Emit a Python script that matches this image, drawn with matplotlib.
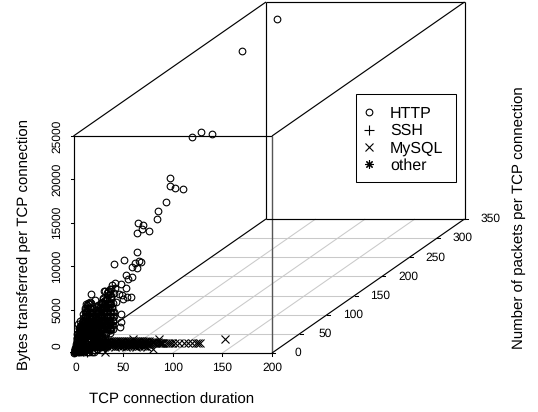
import matplotlib
matplotlib.use("Agg")
import matplotlib.pyplot as plt
from matplotlib.patches import Rectangle

plt.rcParams["font.family"] = ["Liberation Sans", "DejaVu Sans"]
plt.rcParams["text.hinting"] = "none"
plt.rcParams["text.hinting_factor"] = 1

x_ticks = [0, 50, 100, 150, 200]
y_ticks = [0, 50, 100, 150, 200, 250, 300, 350]
z_ticks = [0, 5000, 10000, 15000, 20000, 25000]

# duration, packets, bytes
http_top_x = [20, 20, 15, 15, 20, 10, 10, 10, 10, 5, 5, 5, 5, 5, 5, 5]
http_top_y = [333, 270, 188, 205, 215, 158, 157, 167, 181, 159, 145, 142, 109, 118, 116, 128]
http_top_z = [23790, 22940, 16554, 16380, 15745, 13190, 12280, 11670, 10875, 10335, 9965, 9170, 10170, 9500, 9205, 8445]

http_mid_x = [5, 5, 5, 5, 5, 5, 5, 5, 5, 5, 5, 5, 5, 5, 5, 5, 5, 5, 5, 5, 5, 5, 5, 5, 5, 5, 5, 5, 25, 25, 20]
http_mid_y = [106, 106, 64, 83, 103, 110, 113, 97, 107, 86, 90, 98, 77, 87, 74, 80, 89, 95, 81, 22, 30, 47, 54, 60, 69, 77, 41, 36, 39, 41, 30]
http_mid_z = [9147, 6945, 7373, 7050, 5875, 5760, 5540, 5610, 5045, 5184, 4504, 4481, 4573, 3594, 3525, 3145, 2477, 2281, 2638, 5818, 4781, 5115, 4677, 4712, 2857, 1083, 3300, 3700, 1302, 1786, 1313]

http_left_x = [1, 0, 2, 1, 3, 0, 2, 4, 1, 3, 0, 5, 2, 4, 1, 6, 2, 3, 0, 5, 2, 7, 3, 1, 4, 6, 2, 8, 3, 5, 1, 4, 2, 6, 3, 5]
http_left_y = [1, 2, 2, 3, 3, 4, 4, 5, 5, 6, 6, 7, 7, 8, 8, 9, 9, 10, 10, 11, 11, 12, 12, 13, 13, 14, 14, 15, 15, 16, 16, 17, 18, 19, 20, 21]
http_left_z = [200, 420, 530, 650, 780, 900, 1020, 1100, 1270, 1350, 1480, 1600, 1720, 1800, 1980, 2000, 2200, 2250, 2450, 2500, 2700, 2650, 2900, 3000, 3150, 3100, 3400, 3300, 3600, 3500, 3800, 4000, 4200, 4300, 4700, 4900]

http_right_x = [3, 6, 2, 8, 4, 10, 1, 7, 3, 12, 5, 9, 0, 4, 11, 6, 2, 8, 5, 1, 10, 3, 7, 4, 12, 6, 2, 9, 5, 1, 8, 3, 11, 6, 2, 7, 4, 10, 1, 5, 8, 3, 6, 0, 9, 4, 2, 7, 3, 5]
http_right_y = [6, 8, 10, 12, 14, 15, 16, 18, 20, 21, 22, 24, 25, 26, 27, 28, 30, 31, 32, 33, 34, 35, 36, 37, 38, 39, 40, 41, 42, 43, 44, 45, 46, 47, 48, 49, 50, 51, 52, 53, 54, 55, 56, 57, 58, 59, 60, 62, 64, 66]
http_right_z = [450, 650, 780, 1000, 1100, 1250, 1300, 1500, 1550, 1700, 1800, 1900, 2050, 2000, 2200, 2250, 2400, 2600, 2500, 2750, 2700, 2950, 2850, 3100, 3000, 3300, 3150, 3400, 3350, 3600, 3450, 3750, 3600, 3900, 3750, 4100, 3950, 4250, 4000, 4400, 4150, 4500, 4300, 4650, 4400, 4800, 4550, 4800, 5000, 5100]

http_low_x = [0, 1, 2, 3, 4, 5, 6, 7, 8, 9, 10, 11, 12, 13, 14, 15, 16, 17, 18, 19, 20, 22, 24, 26, 28, 0, 1, 2, 3, 4, 5, 6, 7, 8, 9, 10, 11, 12, 14, 16, 18, 20, 0, 1, 2, 3, 4, 5, 6, 8, 10, 12, 14, 16, 1, 3, 5, 7, 9, 11]
http_low_y = [0, 1, 0, 2, 1, 3, 2, 4, 1, 5, 3, 6, 2, 7, 4, 8, 5, 9, 3, 10, 6, 4, 7, 5, 8, 3, 5, 7, 9, 11, 13, 15, 17, 19, 14, 16, 18, 20, 22, 24, 26, 28, 30, 32, 34, 36, 28, 24, 20, 18, 20, 22, 26, 30, 2, 4, 1, 3, 2, 5]
http_low_z = [50, 100, 200, 150, 300, 250, 400, 200, 500, 350, 600, 300, 700, 450, 550, 500, 800, 600, 900, 400, 1000, 700, 500, 900, 800, 400, 700, 900, 1200, 1500, 1800, 2000, 1300, 1700, 1100, 1400, 1000, 1600, 1300, 1700, 1200, 2000, 1500, 1800, 2200, 2600, 1400, 1100, 900, 700, 1000, 1200, 1600, 2000, 100, 150, 50, 250, 100, 300]

# the solid black part near the origin, estimated
block_x = [2, 3, 1, 2, 3, 6, 7, 5, 6, 7, 10, 11, 9, 10, 11, 14, 15, 13, 14, 15, 18, 19, 17, 18, 19, 22, 23, 21, 22, 23, 26, 25, 24, 26, 25,
           0, 4, 8, 12, 16, 20, 24, 28, 0, 4, 8, 12, 16, 20, 24, 28, 0, 4, 8, 12, 16, 20, 24, 28, 0, 4, 8, 12, 16, 20, 24, 28, 4, 8, 12, 16, 20, 4, 8, 12, 16,
           0, 3, 6, 9, 12, 15, 18, 20]
block_y = [4, 3, 5, 4, 6, 3, 5, 4, 6, 4, 4, 3, 5, 4, 6, 3, 5, 4, 6, 4, 4, 3, 5, 4, 6, 3, 5, 4, 6, 4, 4, 3, 5, 4, 6] + [6] * 41 + [2] * 8
block_z = [200, 700, 1200, 1700, 2200, 300, 750, 1250, 1650, 2150, 200, 700, 1200, 1700, 2100, 300, 750, 1250, 1650, 2000, 200, 700, 1200, 1700, 1900, 300, 750, 1250, 1500, 1800, 200, 700, 1200, 1400, 1600] \
    + [450] * 8 + [950] * 8 + [1450] * 8 + [1950] * 8 + [2450] * 5 + [2950] * 4 + [60] * 8

left_fill_x = [0, 3, 6, 9, 12, 1, 4, 7, 10, 13, 0, 3, 6, 9, 11, 3, 6, 9, 12, 4, 7, 10, 13, 4, 7, 10, 5, 8, 11, 6, 9, 0, 2, 0, 2, 1, 0,
               0, 3, 6, 9, 0, 3, 6, 9, 0, 3, 6, 9, 0, 3, 6, 9, 0, 3, 6, 9, 1, 4, 7, 2, 5, 1, 4, 1, 4, 1, 4]
left_fill_y = [16] * 31 + [8] * 6 + [20] * 25 + [10] * 6
left_fill_z = [1500, 1500, 1500, 1500, 1500, 2000, 2000, 2000, 2000, 2000, 2500, 2500, 2500, 2500, 2500, 3000, 3000, 3000, 3000, 3500, 3500, 3500, 3500, 4000, 4000, 4000, 4500, 4500, 4500, 5000, 5000, 1500, 1500, 2000, 2000, 2500, 3000] \
    + [1800] * 4 + [2300] * 4 + [2800] * 4 + [3300] * 4 + [3800] * 4 + [4300] * 3 + [4800] * 2 + [2200] * 2 + [2700] * 2 + [3200] * 2

right_fill_x = [0, 4, 8, 12, 16, 1, 5, 9, 13, 17, 2, 6, 10, 14, 18, 3, 7, 11, 15, 19, 4, 8, 12, 16, 19, 5, 9, 13, 17, 6, 10, 14, 18, 8, 12, 16,
                0, 3, 6, 9, 12, 15, 0, 3, 6, 9, 12, 15, 0, 3, 6, 9, 12, 15, 0, 3, 6, 9, 12, 15, 0, 3, 6, 9, 12, 15, 2, 5, 8, 11, 14, 4, 7, 10, 13,
                0, 4, 8, 12, 16, 20, 0, 4, 8, 12, 16, 20, 0, 4, 8, 12, 16, 20]
right_fill_y = [40] * 36 + [44] * 39 + [30] * 18
right_fill_z = [1000, 1000, 1000, 1000, 1000, 1500, 1500, 1500, 1500, 1500, 2000, 2000, 2000, 2000, 2000, 2500, 2500, 2500, 2500, 2500, 3000, 3000, 3000, 3000, 3000, 3500, 3500, 3500, 3500, 4000, 4000, 4000, 4000, 4500, 4500, 4500] \
    + [800] * 6 + [1250] * 6 + [1750] * 6 + [2250] * 6 + [2750] * 6 + [3250] * 5 + [3750] * 4 + [1000] * 6 + [1500] * 6 + [2000] * 6

mysql_x = [20, 22, 24, 26, 28, 30, 32, 34, 36, 38, 40, 42, 44, 46, 48, 50, 52, 54, 56, 58, 60, 62, 64, 66, 68, 70, 72, 74, 76, 78, 80, 82, 84, 86, 88, 89, 92, 94, 96, 98, 101, 105, 110, 114, 118, 122, 124, 126,
           23, 27, 31, 35, 39, 43, 47, 51, 55, 59, 63, 67, 71, 75, 58, 84, 80, 32, 151,
           21, 25, 29, 33, 37, 41, 45, 49, 53, 57, 61, 65, 69, 73, 77, 79, 81, 83, 85,
           19, 22, 25, 28, 30, 33, 36, 38, 41, 44, 46, 49, 52, 54, 57, 60, 62, 65, 68, 70, 73,
           21, 23, 25, 27, 29, 31, 33, 35, 37, 39, 41, 43, 45, 47, 49, 51, 53, 55, 57, 59, 61, 63, 65, 67, 69, 71, 73, 75,
           20, 22, 24, 26, 28, 30, 32, 34, 36, 38, 40, 42, 44, 46, 48, 50, 52, 54, 56, 58, 60, 62, 64, 66, 68, 70, 72, 74]
mysql_y = [3] * 48 + [2] * 14 + [3, 3, 1, 0, 3] + [3] * 19 + [2] * 21 + [3] * 56
mysql_z = [1050, 950, 1100, 1000, 1080, 950, 1120, 1000, 1060, 940, 1100, 1020, 960, 1090, 1000, 1050, 950, 1120, 1000, 1060, 980, 1100, 950, 1050, 1000, 1080, 950, 1050, 1000, 1080, 1000, 1050, 1020, 1000, 1060, 1000, 1040, 1000, 1020, 1050, 1000, 1020, 1000, 1040, 1000, 1030, 1000, 1020,
           780, 800, 760, 820, 780, 800, 770, 810, 790, 800, 780, 800, 760, 790, 1500, 1500, 420, 60, 1500,
           1150, 1180, 1140, 1170, 1150, 1180, 1140, 1170, 1150, 1180, 1140, 1170, 1150, 1180, 1100, 1080, 1120, 1100, 1060,
           700, 720, 680, 700, 660, 720, 680, 700, 660, 720, 680, 700, 660, 720, 680, 700, 660, 720, 680, 700, 660] \
    + [900] * 28 + [1250] * 28

ssh_x = [2, 5, 9, 14, 17]
ssh_y = [1, 2, 1, 0, 1]
ssh_z = [300, 200, 150, 100, 250]

other_x = [1, 3, 6, 10]
other_y = [0, 1, 2, 1]
other_z = [100, 300, 150, 250]

series = ["HTTP", "SSH", "MySQL", "other"]


def project(x, y, z):
    # oblique projection of the box onto the page
    px = 73.5 + x * 198.5 / 200 + y * 192.5 / 350
    py = 353 - z * 217.0 / 25000 - y * 134.0 / 350
    return px, py


def edge(ax, a, b, color="black", lw=0.85):
    pa = project(*a)
    pb = project(*b)
    ax.plot([pa[0], pb[0]], [pa[1], pb[1]], color=color, lw=lw, solid_capstyle="butt", zorder=1)


def points(ax, xs, ys, zs, marker, **kw):
    px, py = zip(*[project(a, b, c) for a, b, c in zip(xs, ys, zs)])
    return ax.plot(px, py, ls="none", marker=marker, mfc="none", mec="black", mew=0.8, zorder=3, **kw)[0]


fig = plt.figure(figsize=(5.38, 4.12), dpi=100)
ax = fig.add_axes([0, 0, 1, 1])
ax.set_xlim(0, 538)
ax.set_ylim(412, 0)
ax.axis("off")

# floor grid
for v in x_ticks[1:-1]:
    edge(ax, (v, 0, 0), (v, 350, 0), color="#c9c9c9", lw=0.75)
for v in y_ticks[1:-1]:
    edge(ax, (0, v, 0), (200, v, 0), color="#c9c9c9", lw=0.75)

# box
xm, ym, zm = 200, 350, 25000
edge(ax, (0, 0, 0), (xm, 0, 0))
edge(ax, (0, 0, 0), (0, 0, zm))
edge(ax, (0, 0, zm), (xm, 0, zm))
edge(ax, (xm, 0, 0), (xm, 0, zm), color="#555555", lw=1.0)
edge(ax, (0, 0, 0), (0, ym, 0))
edge(ax, (xm, 0, 0), (xm, ym, 0))
edge(ax, (0, 0, zm), (0, ym, zm))
edge(ax, (xm, 0, zm), (xm, ym, zm))
edge(ax, (0, ym, 0), (xm, ym, 0))
edge(ax, (0, ym, zm), (xm, ym, zm))
edge(ax, (0, ym, 0), (0, ym, zm))
edge(ax, (xm, ym, 0), (xm, ym, zm))

# ticks and tick labels
for v in x_ticks:
    px, py = project(v, 0, 0)
    ax.plot([px, px], [py, py + 3], color="black", lw=0.75, zorder=1)
    ax.text(px + (2.5 if v == 0 else 0), 368, str(v), ha="center", va="center", fontsize=8.6)
for v in y_ticks:
    px, py = project(xm, v, 0)
    ax.plot([px, px + 3], [py, py], color="black", lw=0.75, zorder=1)
    ax.text(px + 26, py, str(v), ha="center", va="center", fontsize=8.6)
for v in z_ticks:
    px, py = project(0, 0, v)
    ax.plot([px - 3, px], [py, py], color="black", lw=0.75, zorder=1)
    ax.text(57, py - (7 if v == 0 else 0), str(v), ha="center", va="center", rotation=90, fontsize=8.6)

ax.text(172, 400, "TCP connection duration", ha="center", va="center", fontsize=11.05)
ax.text(24, 244, "Bytes transferred per TCP connection", ha="center", va="center", rotation=90, fontsize=11.05)
ax.text(519, 218, "Number of packets per TCP connection", ha="center", va="center", rotation=90, fontsize=11.05)

# points
ms = 4.8
h_http = points(ax, http_top_x, http_top_y, http_top_z, "o", ms=ms, label=series[0])
points(ax, http_mid_x, http_mid_y, http_mid_z, "o", ms=ms)
points(ax, http_left_x, http_left_y, http_left_z, "o", ms=ms)
points(ax, http_right_x, http_right_y, http_right_z, "o", ms=ms)
points(ax, http_low_x, http_low_y, http_low_z, "o", ms=ms)
points(ax, block_x, block_y, block_z, "o", ms=ms)
points(ax, left_fill_x, left_fill_y, left_fill_z, "o", ms=ms)
points(ax, right_fill_x, right_fill_y, right_fill_z, "o", ms=ms)
h_ssh = points(ax, ssh_x, ssh_y, ssh_z, "+", ms=6.5, label=series[1])
h_mysql = points(ax, mysql_x, mysql_y, mysql_z, "x", ms=5.2, label=series[2])
h_other = points(ax, other_x, other_y, other_z, (8, 2, 0), ms=6, label=series[3])

ax.add_patch(Rectangle((356.3, 94.3), 100, 87.4, fc="white", ec="black", lw=0.75, zorder=4))
leg = ax.legend(handles=[h_http, h_ssh, h_mysql, h_other], loc="upper left",
                bbox_to_anchor=(349.3, 94.3), bbox_transform=ax.transData,
                fontsize=11.5, frameon=False, borderaxespad=0, borderpad=0.75,
                labelspacing=0.15, handlelength=1.0, handletextpad=0.8, numpoints=1)
leg.set_zorder(5)

fig.savefig("out.png", dpi=100)
